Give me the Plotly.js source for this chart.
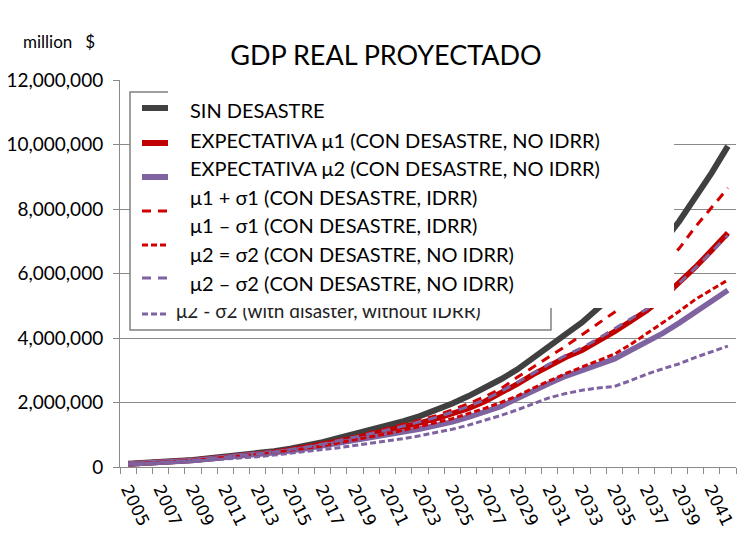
<!DOCTYPE html>
<html>
<head>
<meta charset="utf-8">
<script src="https://cdn.plot.ly/plotly-3.0.1.min.js"></script>
<style>html,body{margin:0;padding:0;background:#fff;}#chart{width:748px;height:551px;}</style>
</head>
<body>
<div id="chart"></div>
<script>
// ---------- DATA ----------
const years = [2005,2006,2007,2008,2009,2010,2011,2012,2013,2014,2015,2016,2017,2018,2019,2020,2021,2022,2023,2024,2025,2026,2027,2028,2029,2030,2031,2032,2033,2034,2035,2036,2037,2038,2039,2040,2041,2042];
const tickYears = [2005,2007,2009,2011,2013,2015,2017,2019,2021,2023,2025,2027,2029,2031,2033,2035,2037,2039,2041];
const tickLabels = ['2005','2007','2009','2011','2013','2015','2017','2019','2021','2023','2025','2027','2029','2031','2033','2035','2037','2039','2041'];

const sinDesastre = [100000,120000,150000,180000,220000,270000,320000,370000,430000,490000,570000,660000,770000,900000,1020000,1150000,1280000,1420000,1580000,1760000,1970000,2200000,2450000,2720000,3020000,3370000,3750000,4120000,4480000,4900000,5370000,5870000,6400000,6970000,7620000,8330000,9120000,9950000];
const expMu1 = [95000,115000,140000,170000,210000,255000,300000,350000,405000,460000,530000,610000,700000,800000,900000,1010000,1120000,1240000,1370000,1500000,1650000,1820000,2030000,2280000,2570000,2870000,3140000,3400000,3620000,3900000,4200000,4520000,4850000,5250000,5700000,6200000,6720000,7260000];
const expMu2 = [90000,110000,135000,165000,200000,245000,290000,335000,385000,440000,500000,570000,650000,730000,820000,910000,1000000,1090000,1180000,1280000,1400000,1550000,1700000,1880000,2120000,2370000,2600000,2820000,3000000,3170000,3350000,3620000,3880000,4150000,4470000,4800000,5150000,5480000];
const mu1MasSigma1 = [100000,120000,145000,175000,215000,260000,310000,360000,420000,480000,550000,635000,730000,840000,950000,1070000,1190000,1320000,1450000,1590000,1770000,1960000,2180000,2430000,2780000,3100000,3420000,3750000,4100000,4450000,4800000,5200000,5680000,6200000,6780000,7450000,8050000,8650000];
const mu1MenosSigma1 = [95000,115000,140000,168000,205000,248000,292000,340000,390000,445000,505000,575000,655000,745000,840000,935000,1035000,1140000,1250000,1380000,1500000,1650000,1820000,2000000,2200000,2450000,2680000,2900000,3100000,3300000,3500000,3800000,4130000,4480000,4830000,5200000,5500000,5800000];
const mu2MasSigma2 = [95000,115000,140000,170000,210000,255000,302000,352000,410000,468000,540000,620000,710000,815000,920000,1030000,1150000,1270000,1400000,1540000,1700000,1880000,2090000,2340000,2620000,2920000,3200000,3460000,3700000,3980000,4280000,4580000,4900000,5280000,5700000,6180000,6680000,7180000];
const mu2MenosSigma2 = [90000,105000,125000,150000,180000,210000,245000,280000,320000,370000,420000,480000,540000,600000,670000,730000,800000,880000,970000,1070000,1170000,1300000,1440000,1600000,1770000,1970000,2150000,2280000,2380000,2450000,2500000,2680000,2880000,3050000,3200000,3400000,3580000,3750000];

const seriesNames = [
  'SIN DESASTRE',
  'EXPECTATIVA \u03bc1 (CON DESASTRE, NO IDRR)',
  'EXPECTATIVA \u03bc2 (CON DESASTRE, NO IDRR)',
  '\u03bc1 + \u03c31 (CON DESASTRE, IDRR)',
  '\u03bc1 \u2013 \u03c31 (CON DESASTRE, IDRR)',
  '\u03bc2 = \u03c32 (CON DESASTRE, NO IDRR)',
  '\u03bc2 \u2013 \u03c32 (CON DESASTRE, NO IDRR)'
];
const oldLegendText = '\u03bc2 - \u03c32 (with disaster, without IDRR)';
const chartTitle = 'GDP REAL PROYECTADO';
const unitLabel = 'million&nbsp;&nbsp;&nbsp;$';

// ---------- STYLES ----------
const seriesValues = [sinDesastre, expMu1, expMu2, mu1MasSigma1, mu1MenosSigma1, mu2MasSigma2, mu2MenosSigma2];
const styles = [
  {color:'#404040', width:6, dash:'solid'},
  {color:'#C00000', width:5.5, dash:'solid'},
  {color:'#7F63A1', width:5.5, dash:'solid'},
  {color:'#D00000', width:3, dash:'9px,7px'},
  {color:'#D00000', width:3, dash:'6px,3px'},
  {color:'#7F63A1', width:3, dash:'9px,7px'},
  {color:'#7F63A1', width:3, dash:'6px,3px'}
];

const traces = seriesValues.map((v,i)=>({
  type:'scatter', mode:'lines', x:years, y:v, name:seriesNames[i],
  line:{color:styles[i].color, width:styles[i].width, dash:styles[i].dash},
  hoverinfo:'skip'
}));

// pixel -> paper helpers (plot area 120..736 x 80..467)
const PL=120, PR=736, PT=80, PB=467;
const px = x => (x-PL)/(PR-PL);
const py = y => (PB-y)/(PB-PT);

const grid = '#8a8a8a';
const shapes = [];
// old legend box
shapes.push({type:'rect', xref:'paper', yref:'paper', x0:px(130), x1:px(551), y0:py(92), y1:py(330),
  fillcolor:'#ffffff', line:{color:'#808080', width:1.5}, layer:'above'});
// old legend samples
const sampleY = [108,143,177,211,245,278,314];
sampleY.forEach((y,i)=>{
  shapes.push({type:'line', xref:'paper', yref:'paper', x0:px(142), x1:px(168), y0:py(y), y1:py(y),
    line:{color:styles[i].color, width:(i<3?6:3), dash:styles[i].dash}, layer:'above'});
});
// old legend text (partly hidden)
shapes.push({type:'rect', xref:'paper', yref:'paper', x0:px(173), x1:px(495), y0:py(300), y1:py(320),
  fillcolor:'rgba(0,0,0,0)', line:{width:0}, layer:'above',
  label:{text:oldLegendText, textposition:'middle left', padding:0, font:{family:'Lato', size:19, color:'#222'}}});
// white overlay with new legend
shapes.push({type:'rect', xref:'paper', yref:'paper', x0:px(168), x1:px(674), y0:py(308), y1:py(86),
  fillcolor:'#ffffff', line:{width:0}, layer:'above'});
// white overlay at top (hides top gridline)
shapes.push({type:'rect', xref:'paper', yref:'paper', x0:px(121), x1:px(745), y0:py(91), y1:py(60),
  fillcolor:'#ffffff', line:{width:0}, layer:'above'});

const legendY = [110,140,168,197,225,254,283];
const annotations = seriesNames.map((t,i)=>({
  xref:'paper', yref:'paper', x:px(188), y:py(legendY[i]), xanchor:'left', yanchor:'middle',
  text:t, showarrow:false, font:{family:'Lato', size:20, color:'#000'}
}));
annotations.push({xref:'paper', yref:'paper', x:px(21), y:py(41), xanchor:'left', yanchor:'middle',
  text:unitLabel, showarrow:false, font:{family:'Lato', size:17, color:'#000'}});

const layout = {
  width:748, height:551,
  margin:{l:120, r:12, t:80, b:84, pad:0},
  paper_bgcolor:'#ffffff', plot_bgcolor:'#ffffff',
  showlegend:false,
  title:{text:chartTitle, font:{family:'Lato', size:27, color:'#000'}, x:386/748, xanchor:'center', y:1-56/551, yanchor:'middle'},
  xaxis:{
    range:[2004.5, 2042.5], tickmode:'array', tickvals:tickYears, ticktext:tickLabels,
    tickangle:64, tickfont:{family:'DejaVu Sans', size:17, color:'#000'},
    ticks:'', showgrid:false, zeroline:false, showline:true, linecolor:grid, linewidth:1,
    ticklabelstandoff:5,
    minor:{ticks:'outside', ticklen:6, tickcolor:grid, tickwidth:1, tickmode:'linear', tick0:2004.5, dtick:1, showgrid:false},
    fixedrange:true
  },
  yaxis:{
    range:[0, 12000000], tickmode:'linear', tick0:0, dtick:2000000, tickformat:',d',
    ticks:'outside', ticklen:6, tickcolor:grid, showgrid:true, gridcolor:grid, gridwidth:1,
    showline:true, linecolor:grid, linewidth:1, zeroline:false,
    tickfont:{family:'Lato', size:19, color:'#000'}, ticklabelstandoff:6, fixedrange:true
  },
  shapes:shapes,
  annotations:annotations
};

Plotly.newPlot('chart', traces, layout, {staticPlot:true, displayModeBar:false});
</script>
</body>
</html>
